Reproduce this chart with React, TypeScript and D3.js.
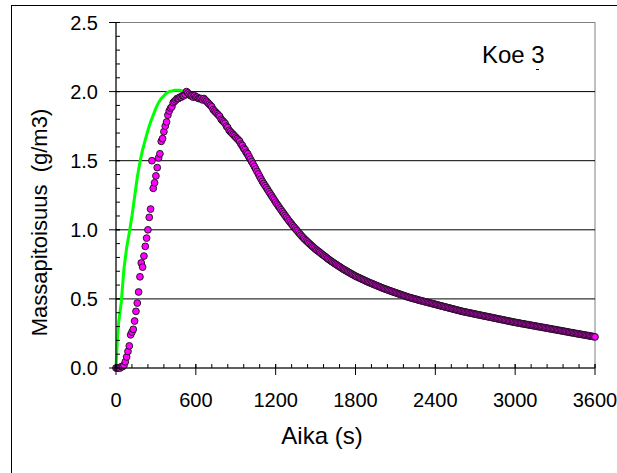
import React from "react";
import * as d3 from "d3";

// ---- data ----
const xTicks = [0, 600, 1200, 1800, 2400, 3000, 3600];
const yTicks = [0, 0.5, 1.0, 1.5, 2.0, 2.5];
const sampleStep = 10; // seconds between measured samples
const measuredValues = [
  0, 0, 0, 0, 0.01, 0.01, 0.02, 0.045, 0.08, 0.12,
  0.16, 0.24, 0.26, 0.28, 0.34, 0.41, 0.47, 0.55, 0.66, 0.76,
  0.73, 0.81, 0.88, 0.94, 1.0, 1.09, 1.15, 1.5, 1.3, 1.34,
  1.39, 1.45, 1.52, 1.55, 1.64, 1.66, 1.71, 1.75, 1.78, 1.83,
  1.86, 1.88, 1.89, 1.92, 1.93, 1.94, 1.95, 1.95, 1.96, 1.96,
  1.97, 1.97, 1.98, 2.0, 1.99, 1.98, 1.97, 1.97, 1.96, 1.97,
  1.96, 1.96, 1.95, 1.95, 1.95, 1.94, 1.95, 1.94, 1.93, 1.92,
  1.91, 1.9, 1.89, 1.87, 1.86, 1.85, 1.84, 1.83, 1.82, 1.8,
  1.79, 1.78, 1.77, 1.75, 1.74, 1.72, 1.71, 1.7, 1.69, 1.68,
  1.67, 1.66, 1.65, 1.64, 1.62, 1.61, 1.59, 1.58, 1.56, 1.55,
  1.53, 1.512, 1.494, 1.476, 1.458, 1.44, 1.422, 1.404, 1.386, 1.368,
  1.35, 1.335, 1.32, 1.305, 1.29, 1.275, 1.26, 1.245, 1.23, 1.215,
  1.2, 1.186, 1.172, 1.158, 1.145, 1.131, 1.118, 1.104, 1.091, 1.078,
  1.065, 1.053, 1.041, 1.029, 1.018, 1.006, 0.995, 0.983, 0.972, 0.961,
  0.95, 0.94, 0.93, 0.921, 0.912, 0.903, 0.894, 0.885, 0.877, 0.868,
  0.86, 0.852, 0.845, 0.838, 0.83, 0.822, 0.815, 0.808, 0.8, 0.792,
  0.785, 0.778, 0.771, 0.765, 0.758, 0.752, 0.746, 0.739, 0.733, 0.727,
  0.72, 0.714, 0.709, 0.703, 0.698, 0.692, 0.687, 0.681, 0.676, 0.67,
  0.665, 0.66, 0.656, 0.651, 0.647, 0.642, 0.638, 0.633, 0.629, 0.624,
  0.62, 0.616, 0.612, 0.608, 0.604, 0.6, 0.596, 0.592, 0.588, 0.584,
  0.58, 0.576, 0.573, 0.569, 0.566, 0.562, 0.559, 0.555, 0.552, 0.548,
  0.545, 0.542, 0.538, 0.535, 0.532, 0.528, 0.525, 0.522, 0.518, 0.515,
  0.512, 0.509, 0.507, 0.504, 0.501, 0.499, 0.496, 0.493, 0.49, 0.488,
  0.485, 0.483, 0.48, 0.478, 0.475, 0.473, 0.47, 0.468, 0.465, 0.463,
  0.46, 0.458, 0.455, 0.453, 0.45, 0.448, 0.445, 0.443, 0.44, 0.438,
  0.435, 0.433, 0.43, 0.428, 0.425, 0.423, 0.42, 0.418, 0.415, 0.413,
  0.41, 0.408, 0.406, 0.404, 0.402, 0.4, 0.398, 0.396, 0.394, 0.392,
  0.39, 0.388, 0.386, 0.384, 0.382, 0.38, 0.378, 0.376, 0.374, 0.372,
  0.37, 0.368, 0.366, 0.364, 0.362, 0.36, 0.358, 0.356, 0.354, 0.352,
  0.35, 0.348, 0.346, 0.344, 0.342, 0.34, 0.338, 0.336, 0.334, 0.332,
  0.33, 0.328, 0.327, 0.325, 0.323, 0.321, 0.32, 0.318, 0.316, 0.314,
  0.313, 0.311, 0.309, 0.307, 0.306, 0.304, 0.302, 0.3, 0.299, 0.297,
  0.295, 0.293, 0.292, 0.29, 0.288, 0.286, 0.285, 0.283, 0.281, 0.279,
  0.278, 0.276, 0.274, 0.272, 0.271, 0.269, 0.267, 0.265, 0.264, 0.262,
  0.26, 0.258, 0.256, 0.255, 0.253, 0.251, 0.249, 0.248, 0.246, 0.244,
  0.243, 0.241, 0.239, 0.237, 0.236, 0.234, 0.232, 0.23, 0.229, 0.227,
  0.225,
];
const greenTimes = [0, 10, 20, 40, 60, 80, 100, 120, 140, 160, 180, 200, 220, 240, 260, 280, 300, 320, 340, 360, 380, 400, 440, 480, 520, 560, 600, 700, 800, 900, 1000, 1100, 1200, 1300, 1400, 1500, 1600, 1800, 2000, 2200, 2400, 2600, 2800, 3000, 3200, 3400, 3600];
const greenValues = [0, 0.2, 0.33, 0.48, 0.72, 0.87, 0.98, 1.1, 1.24, 1.38, 1.49, 1.58, 1.65, 1.72, 1.78, 1.83, 1.88, 1.92, 1.95, 1.97, 1.99, 2.0, 2.01, 2.01, 2.0, 1.98, 1.96, 1.91, 1.79, 1.67, 1.53, 1.35, 1.2, 1.065, 0.95, 0.86, 0.785, 0.665, 0.58, 0.512, 0.46, 0.41, 0.37, 0.33, 0.295, 0.26, 0.225];
const blueTimes = [560, 600, 700, 800, 900, 950, 1000, 1050, 1100, 1200, 1300, 1400, 1500, 1600, 1800, 2000, 2200, 2400, 2600, 2800, 3000, 3200, 3400, 3600];
const blueValues = [1.97, 1.96, 1.91, 1.78, 1.64, 1.56, 1.48, 1.41, 1.34, 1.2, 1.065, 0.95, 0.86, 0.785, 0.665, 0.58, 0.512, 0.46, 0.41, 0.37, 0.33, 0.295, 0.26, 0.225];

const FONT = "Arial, 'Liberation Sans', Helvetica, sans-serif";

export default function App() {
  const left = 116, right = 595, top = 22.5, bottom = 368;
  const x = d3.scaleLinear().domain([0, 3600]).range([left, right]);
  const y = d3.scaleLinear().domain([0, 2.5]).range([bottom, top]);

  const measured = measuredValues.map((v, i) => ({ t: i * sampleStep, v }));
  const green = greenTimes.map((t, i) => ({ t, v: greenValues[i] }));
  const blue = blueTimes.map((t, i) => ({ t, v: blueValues[i] }));
  const line = d3.line<{ t: number; v: number }>().x((d) => x(d.t)).y((d) => y(d.v));

  const xMinor = d3.range(0, 3601, 120);
  const yMinor = d3.range(0, 2.501, 0.1);

  return (
    <svg width={617} height={473} style={{ position: "absolute", left: 0, top: 0, background: "#fff" }} fontFamily={FONT}>
      <rect x={11.5} y={5.5} width={640} height={500} fill="#fff" stroke="#000" strokeWidth={1} />
      {/* plot area border */}
      <rect x={left} y={top} width={right - left} height={bottom - top} fill="#fff" stroke="#808080" strokeWidth={1} />
      {/* gridlines */}
      {yTicks.filter((t) => t > 0 && t < 2.5).map((t) => (
        <line key={"g" + t} x1={left} x2={right} y1={y(t)} y2={y(t)} stroke="#000" strokeWidth={1} />
      ))}
      {/* series */}
      <path d={line(green) || ""} fill="none" stroke="#00ff00" strokeWidth={3} />
      <path d={line(blue) || ""} fill="none" stroke="#000080" strokeWidth={1} />
      {measured.map((d, i) => (
        <circle key={i} cx={x(d.t)} cy={y(d.v)} r={3.4} fill="#ff00ff" stroke="#111" strokeWidth={0.9} />
      ))}
      {/* axes */}
      <line x1={left} x2={left} y1={top} y2={bottom} stroke="#000" strokeWidth={1} />
      <line x1={left} x2={right} y1={bottom} y2={bottom} stroke="#000" strokeWidth={1} />
      {yMinor.map((t, i) => (
        <line key={"ym" + i} x1={left} x2={left + 4} y1={y(t)} y2={y(t)} stroke="#000" strokeWidth={1} />
      ))}
      {yTicks.map((t) => (
        <line key={"yt" + t} x1={left - 7} x2={left + 4} y1={y(t)} y2={y(t)} stroke="#000" strokeWidth={1} />
      ))}
      {xMinor.map((t, i) => (
        <line key={"xm" + i} x1={x(t)} x2={x(t)} y1={bottom} y2={bottom - 4} stroke="#000" strokeWidth={1} />
      ))}
      {xTicks.map((t) => (
        <line key={"xt" + t} x1={x(t)} x2={x(t)} y1={bottom - 4} y2={bottom + 7} stroke="#000" strokeWidth={1} />
      ))}
      {yTicks.map((t) => (
        <text key={"yl" + t} x={98} y={y(t)} dy="0.36em" textAnchor="end" fontSize={20} fill="#000">
          {t.toFixed(1)}
        </text>
      ))}
      {xTicks.map((t) => (
        <text key={"xl" + t} x={x(t)} y={407} textAnchor="middle" fontSize={20} fill="#000">
          {String(t)}
        </text>
      ))}
      <text x={322} y={444} textAnchor="middle" fontSize={24} fill="#000">Aika (s)</text>
      <text transform={`translate(47,222.5) rotate(-90)`} textAnchor="middle" fontSize={22} fill="#000" style={{ whiteSpace: "pre" }}>
        {"Massapitoisuus  (g/m3)"}
      </text>
      <text x={482} y={63} fontSize={24} fill="#000">Koe 3</text>
      <line x1={536} x2={539} y1={69.5} y2={69.5} stroke="#000" strokeWidth={1} />
    </svg>
  );
}
